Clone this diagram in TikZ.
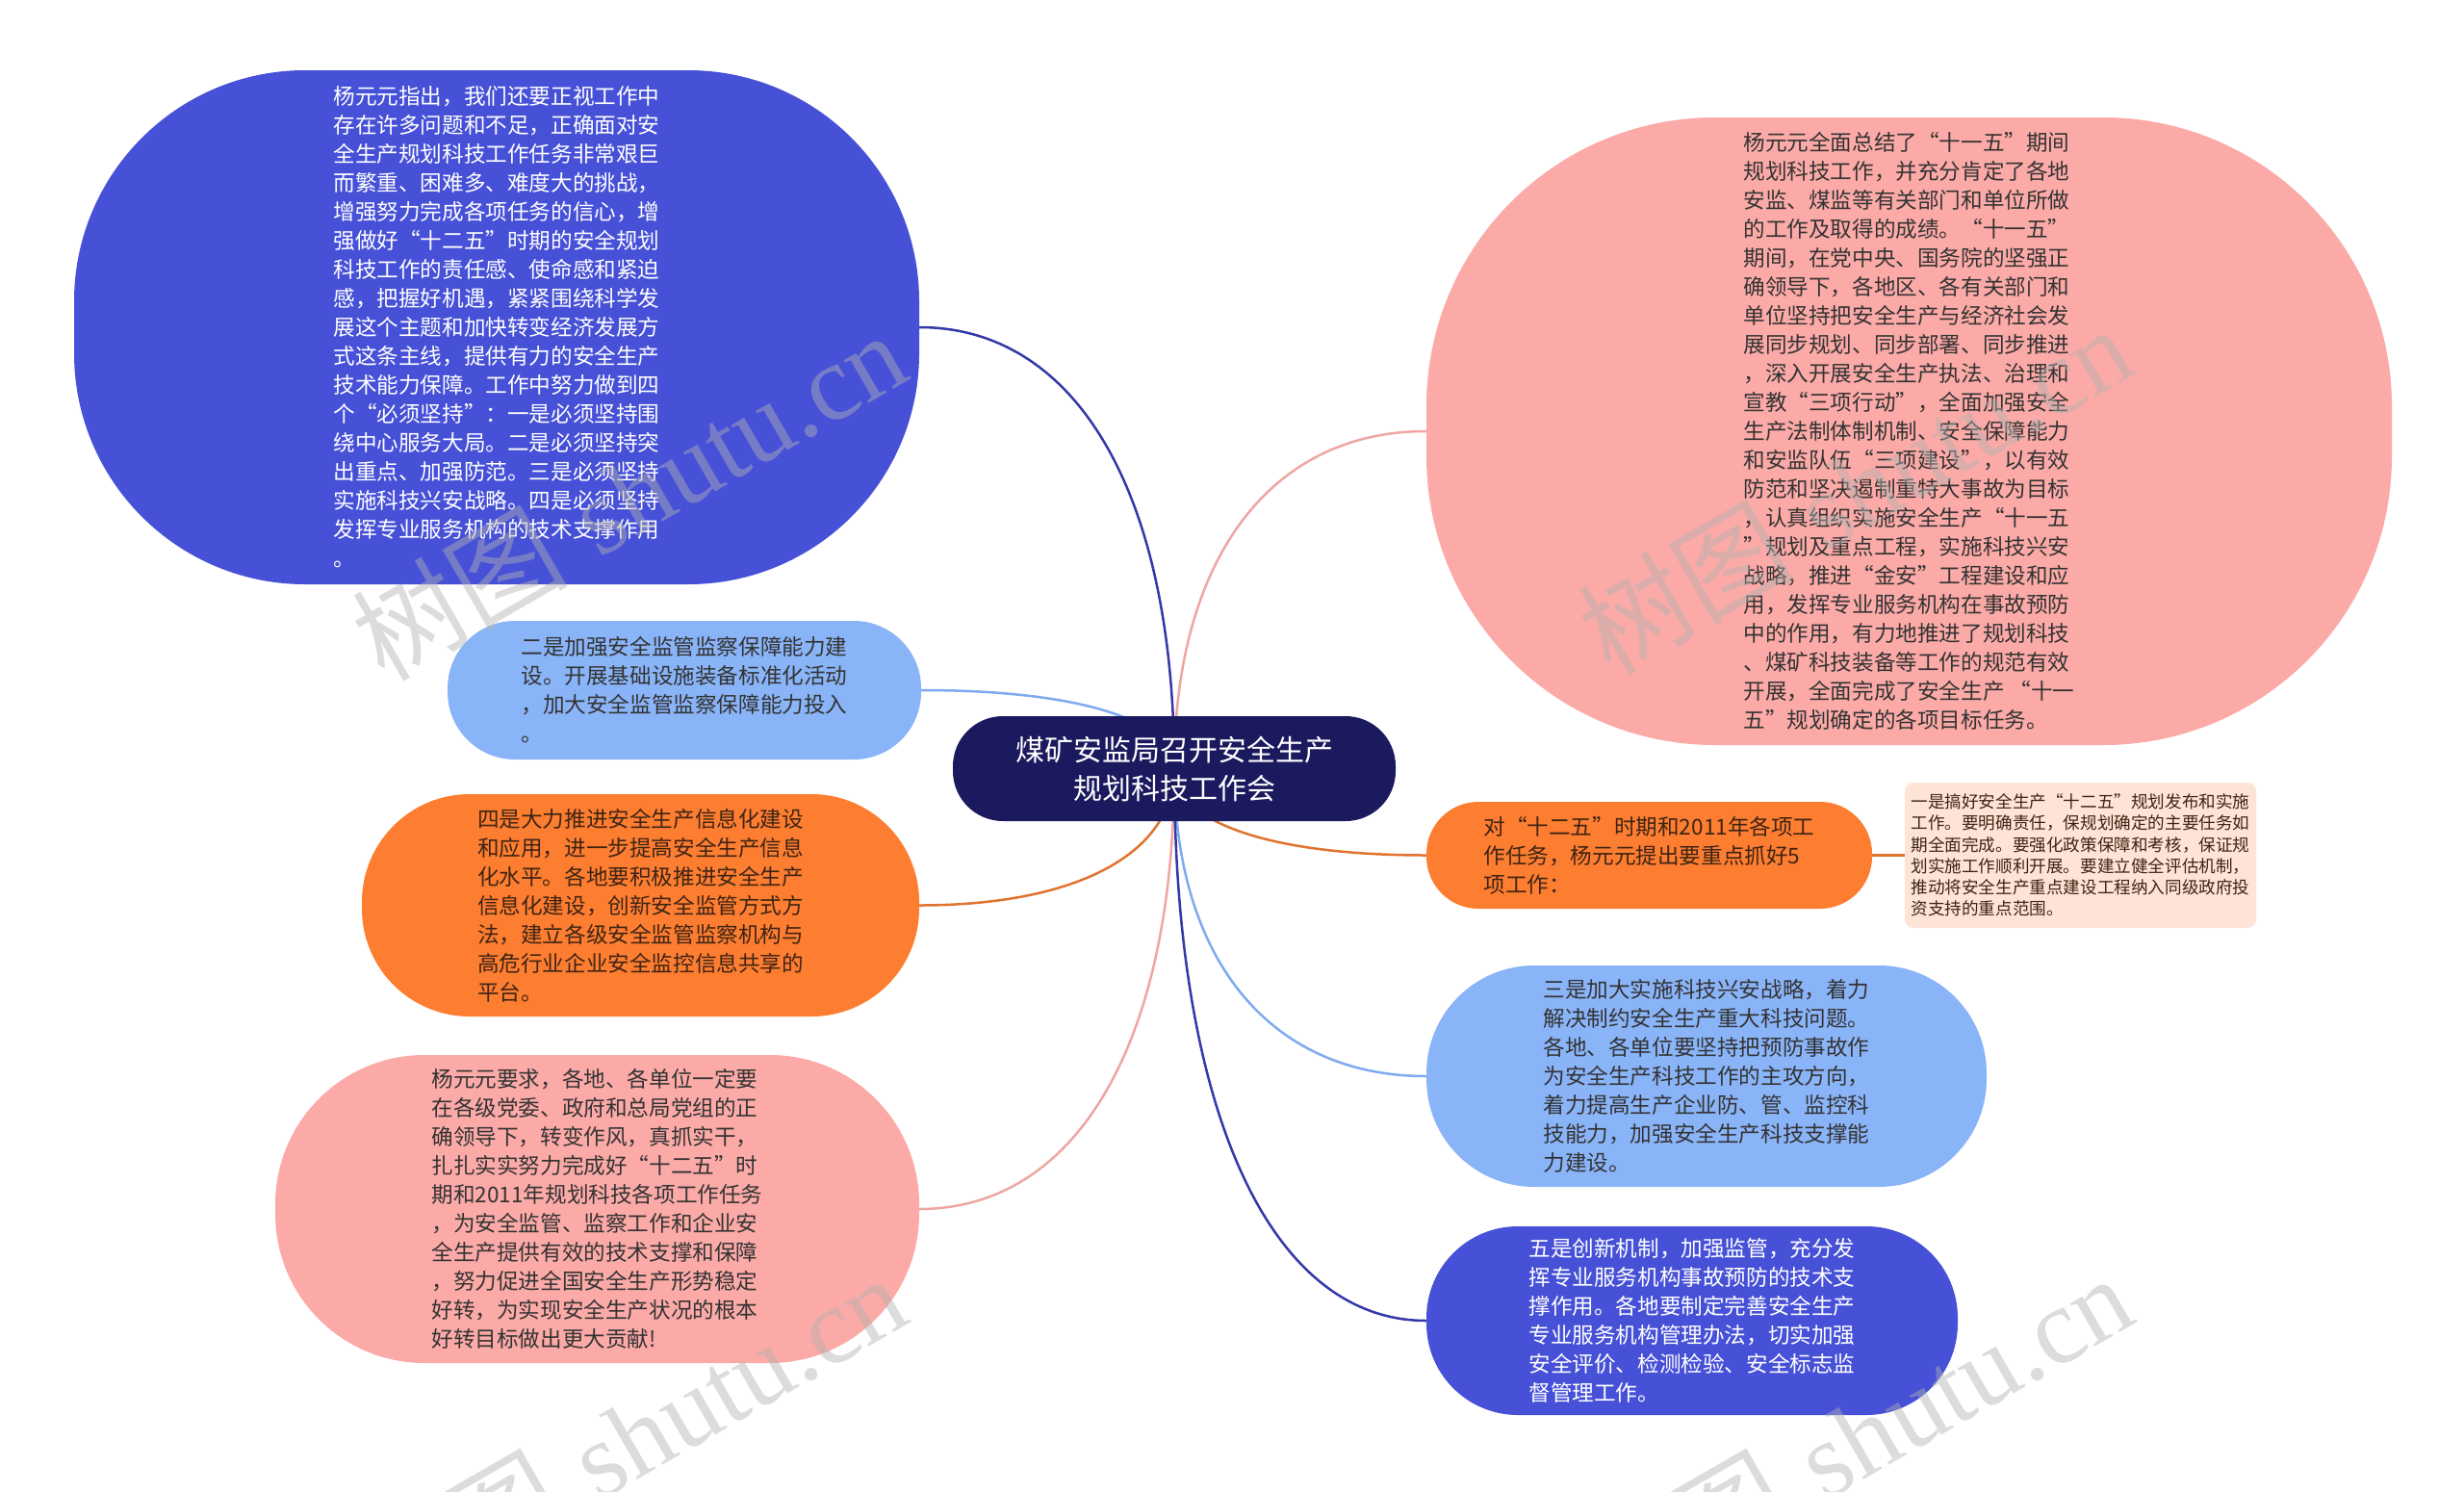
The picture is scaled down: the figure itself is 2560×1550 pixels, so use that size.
\documentclass[tikz,border=0pt]{standalone}
\usepackage{fontspec}
\newfontfamily\cjk{Noto Sans CJK SC}
\newfontfamily\wmserif{Liberation Serif}
\usetikzlibrary{calc,backgrounds}
\definecolor{cRoot}{HTML}{1C1A5E}
\definecolor{cBlue}{HTML}{4751D7}
\definecolor{cBlueLn}{HTML}{3438A8}
\definecolor{cPink}{HTML}{FBAAA7}
\definecolor{cPinkLn}{HTML}{EEA6A4}
\definecolor{cLBlue}{HTML}{8AB4F8}
\definecolor{cLBlueLn}{HTML}{7EABEF}
\definecolor{cOrange}{HTML}{FD7D31}
\definecolor{cOrangeLn}{HTML}{E07330}
\definecolor{cPeach}{HTML}{FDE4D7}
\definecolor{cDark}{HTML}{333333}
\definecolor{cBrown}{HTML}{3E2413}
\definecolor{cWm}{rgb}{0.7,0.7,0.7}
\tikzset{
  mmbox/.style={inner sep=0pt, align=left, font=\cjk\fontsize{22.6}{30}\selectfont},
  rootbox/.style={inner sep=0pt, align=center, fill=cRoot, text=white,
    minimum width=460, minimum height=109, rounded corners=52,
    font=\cjk\fontsize{30}{40}\selectfont},
  peachbox/.style={inner sep=0pt, align=left, fill=cPeach, text=cBrown,
    rounded corners=9, font=\cjk\fontsize{17.6}{22.2}\selectfont},
  lnk/.style={line width=2.5},
  wmark/.style={text=cWm, opacity=0.45, rotate=30, font=\fontsize{112}{112}\selectfont},
}
\newcommand\mmlink[3]{\draw[lnk,#1] (#2) .. controls ($(#2)!0.62!(#2|-#3)$) and ($(#3)!0.62!(#2|-#3)$) .. (#3);}
\begin{document}
\begin{tikzpicture}[x=1pt,y=-1pt]
\useasboundingbox (0,0) rectangle (2560,1550);

\node[rootbox] (root) at (1220,798.5) {煤矿安监局召开安全生产\\规划科技工作会};

\node[mmbox, fill=cBlue, text=white, minimum width=878, minimum height=534, rounded corners=240] (tl) at (516,340) {%
杨元元指出，我们还要正视工作中\\
存在许多问题和不足，正确面对安\\
全生产规划科技工作任务非常艰巨\\
而繁重、困难多、难度大的挑战，\\
增强努力完成各项任务的信心，增\\
强做好“十二五”时期的安全规划\\
科技工作的责任感、使命感和紧迫\\
感，把握好机遇，紧紧围绕科学发\\
展这个主题和加快转变经济发展方\\
式这条主线，提供有力的安全生产\\
技术能力保障。工作中努力做到四\\
个“必须坚持”：一是必须坚持围\\
绕中心服务大局。二是必须坚持突\\
出重点、加强防范。三是必须坚持\\
实施科技兴安战略。四是必须坚持\\
发挥专业服务机构的技术支撑作用\\
。};

\node[mmbox, fill=cPink, text=cDark, minimum width=1003, minimum height=652, rounded corners=300] (rp) at (1983.5,448) {%
杨元元全面总结了“十一五”期间\\
规划科技工作，并充分肯定了各地\\
安监、煤监等有关部门和单位所做\\
的工作及取得的成绩。“十一五”\\
期间，在党中央、国务院的坚强正\\
确领导下，各地区、各有关部门和\\
单位坚持把安全生产与经济社会发\\
展同步规划、同步部署、同步推进\\
，深入开展安全生产执法、治理和\\
宣教“三项行动”，全面加强安全\\
生产法制体制机制、安全保障能力\\
和安监队伍“三项建设”，以有效\\
防范和坚决遏制重特大事故为目标\\
，认真组织实施安全生产“十一五\\
”规划及重点工程，实施科技兴安\\
战略，推进“金安”工程建设和应\\
用，发挥专业服务机构在事故预防\\
中的作用，有力地推进了规划科技\\
、煤矿科技装备等工作的规范有效\\
开展，全面完成了安全生产 “十一\\
五”规划确定的各项目标任务。};

\node[mmbox, fill=cLBlue, text=cDark, minimum width=492, minimum height=144, rounded corners=70] (lb) at (711,717) {%
二是加强安全监管监察保障能力建\\
设。开展基础设施装备标准化活动\\
，加大安全监管监察保障能力投入\\
。};

\node[mmbox, fill=cOrange, text=cBrown, minimum width=579, minimum height=231, rounded corners=112] (lo) at (665.5,940.5) {%
四是大力推进安全生产信息化建设\\
和应用，进一步提高安全生产信息\\
化水平。各地要积极推进安全生产\\
信息化建设，创新安全监管方式方\\
法，建立各级安全监管监察机构与\\
高危行业企业安全监控信息共享的\\
平台。};

\node[mmbox, fill=cPink, text=cDark, minimum width=669, minimum height=320, rounded corners=155] (lp) at (620.5,1256) {%
杨元元要求，各地、各单位一定要\\
在各级党委、政府和总局党组的正\\
确领导下，转变作风，真抓实干，\\
扎扎实实努力完成好“十二五”时\\
期和2011年规划科技各项工作任务\\
，为安全监管、监察工作和企业安\\
全生产提供有效的技术支撑和保障\\
，努力促进全国安全生产形势稳定\\
好转，为实现安全生产状况的根本\\
好转目标做出更大贡献!};

\node[mmbox, fill=cOrange, text=cBrown, minimum width=463, minimum height=111, rounded corners=54] (ro) at (1713.5,888.5) {%
对“十二五”时期和2011年各项工\\
作任务，杨元元提出要重点抓好5\\
项工作：};

\node[peachbox, minimum width=365, minimum height=151] (pe) at (2161.5,888.5) {%
一是搞好安全生产“十二五”规划发布和实施\\
工作。要明确责任，保规划确定的主要任务如\\
期全面完成。要强化政策保障和考核，保证规\\
划实施工作顺利开展。要建立健全评估机制，\\
推动将安全生产重点建设工程纳入同级政府投\\
资支持的重点范围。};

\node[mmbox, fill=cLBlue, text=cDark, minimum width=582, minimum height=230, rounded corners=112] (rb) at (1773,1118) {%
三是加大实施科技兴安战略，着力\\
解决制约安全生产重大科技问题。\\
各地、各单位要坚持把预防事故作\\
为安全生产科技工作的主攻方向，\\
着力提高生产企业防、管、监控科\\
技能力，加强安全生产科技支撑能\\
力建设。};

\node[mmbox, fill=cBlue, text=white, minimum width=552, minimum height=196, rounded corners=95] (rd) at (1758,1372) {%
五是创新机制，加强监管，充分发\\
挥专业服务机构事故预防的技术支\\
撑作用。各地要制定完善安全生产\\
专业服务机构管理办法，切实加强\\
安全评价、检测检验、安全标志监\\
督管理工作。};

\begin{scope}[on background layer]
\fill[white] (0,0) rectangle (2560,1550);
\mmlink{cBlueLn}{root.center}{tl.east}
\mmlink{cPinkLn}{root.center}{rp.west}
\mmlink{cLBlueLn}{root.center}{lb.east}
\mmlink{cOrangeLn}{root.center}{lo.east}
\mmlink{cPinkLn}{root.center}{lp.east}
\mmlink{cOrangeLn}{root.center}{ro.west}
\mmlink{cLBlueLn}{root.center}{rb.west}
\mmlink{cBlueLn}{root.center}{rd.west}
\draw[lnk,cOrangeLn] (ro.east) -- (pe.west);
\end{scope}

\node[wmark] (wm1) at (653,514) {{\cjk 树图} {\wmserif shutu.cn}};
\node[wmark] (wm2) at (1927,508) {{\cjk 树图} {\wmserif shutu.cn}};
\node[wmark] (wm3) at (653,1494) {{\cjk 树图} {\wmserif shutu.cn}};
\node[wmark] (wm4) at (1927,1494) {{\cjk 树图} {\wmserif shutu.cn}};
\end{tikzpicture}
\end{document}
